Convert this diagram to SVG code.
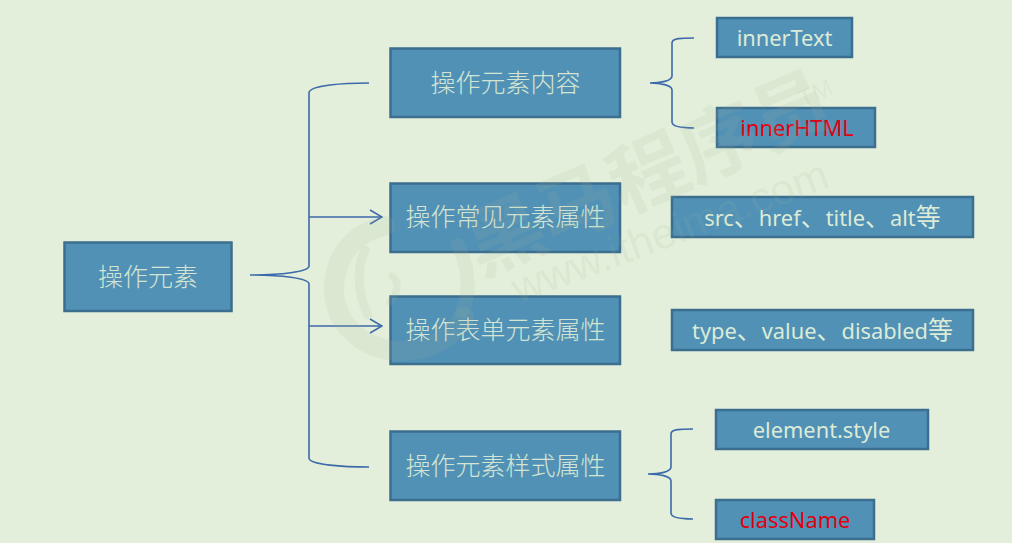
<svg xmlns="http://www.w3.org/2000/svg" width="1012" height="543" viewBox="0 0 1012 543">
<style>
.box{fill:#5191b6;stroke:#3c6e8f;stroke-width:2.5}
.zh{font-family:"Noto Sans CJK SC","Noto Sans",sans-serif;font-size:25px;font-weight:300;fill:#d3e5d2;text-anchor:middle}
.en{font-family:"Noto Sans","Open Sans","Noto Sans CJK SC",sans-serif;font-size:21.8px;fill:#dcebd6;text-anchor:middle}
.cj{font-family:"Noto Sans CJK SC",sans-serif;font-size:25px}
.red{fill:#e00010}
.conn{fill:none;stroke:#3c69a9;stroke-width:1.6}
.wm{fill:#9fb598;fill-opacity:.13;font-family:"Liberation Sans","Noto Sans CJK SC",sans-serif}
.ring{fill:none;stroke:#9fb598;stroke-opacity:.13;stroke-linecap:round}
</style>
<defs>
<marker id="arrow" viewBox="0 0 14 16" refX="13" refY="8" markerWidth="14" markerHeight="16" markerUnits="userSpaceOnUse" orient="auto"><path d="M1 1L13 8L1 15" fill="none" stroke="#3c69a9" stroke-width="1.5"/></marker>
</defs>
<rect width="1012" height="543" fill="#e3efda"/>
<g id="connectors">
<path class="conn" d="M369 83C345 83 309 85 309 93V266C309 272 280 275 250 275C280 275 309 278 309 284V458C309 465 345 467 369 467"/>
<path class="conn" d="M309 217H382" marker-end="url(#arrow)"/>
<path class="conn" d="M309 326H382" marker-end="url(#arrow)"/>
<path class="conn" d="M694 38C682 38 672 38 672 43V76C672 81 660 83 650 83C660 83 672 85 672 90V122C672 127 682 128 694 128"/>
<path class="conn" d="M693 429C681 429 671 429 671 434V467C671 472 659 474 648 474C659 474 671 476 671 481V513C671 518 681 519 693 519"/>
</g>
<g id="root"><rect class="box" x="64.500" y="242.500" width="167" height="68.500"/><text class="zh" x="148" y="286">操作元素</text></g>
<g id="content"><rect class="box" x="390.500" y="48.500" width="229.500" height="68.500"/><text class="zh" x="505.500" y="92">操作元素内容</text></g>
<g id="common"><rect class="box" x="390.500" y="183.500" width="229.500" height="68.500"/><text class="zh" x="505.500" y="226">操作常见元素属性</text></g>
<g id="form"><rect class="box" x="390.500" y="296.500" width="229.500" height="67.500"/><text class="zh" x="505.500" y="339">操作表单元素属性</text></g>
<g id="style"><rect class="box" x="390.500" y="431.500" width="229.500" height="68.500"/><text class="zh" x="505.500" y="475">操作元素样式属性</text></g>
<g id="innerText"><rect class="box" x="717" y="18" width="135" height="39"/><text class="en" x="784.500" y="46">innerText</text></g>
<g id="innerHTML"><rect class="box" x="717" y="108" width="158" height="39"/><text class="en red" x="797" y="136">innerHTML</text></g>
<g id="attrs"><rect class="box" x="672" y="197" width="301" height="40"/><text class="en" x="822.500" y="226">src<tspan class="cj">、</tspan>href<tspan class="cj">、</tspan>title<tspan class="cj">、</tspan>alt<tspan class="cj">等</tspan></text></g>
<g id="formattrs"><rect class="box" x="672" y="310" width="301" height="40"/><text class="en" x="822.500" y="339">type<tspan class="cj">、</tspan>value<tspan class="cj">、</tspan>disabled<tspan class="cj">等</tspan></text></g>
<g id="elementStyle"><rect class="box" x="716" y="410" width="212" height="39"/><text class="en" x="821.500" y="438">element.style</text></g>
<g id="className"><rect class="box" x="716" y="500" width="158" height="39"/><text class="en red" x="795" y="528">className</text></g>
<g id="watermark">
<text class="wm" transform="translate(648 173) rotate(-23.500)" y="28" text-anchor="middle" font-size="78" font-weight="700">黑马程序员</text>
<text class="wm" transform="translate(816 95) rotate(-23.500)" y="6" text-anchor="middle" font-size="24">TM</text>
<text class="wm" transform="translate(670 232) rotate(-20.500)" y="14" text-anchor="middle" font-size="43">www.itheima.com</text>
<path class="ring" stroke-width="20" d="M385 226C350 233 333 262 334 292C336 327 366 351 402 351C430 351 452 338 464 317"/>
<path class="ring" stroke-width="14" d="M458 245C470 270 470 295 462 312"/>
<path class="ring" stroke-width="9" d="M365 250C356 268 358 295 368 315"/>
<path class="ring" stroke-width="7" d="M392 276C400 283 398 292 390 302"/>
</g>
</svg>
